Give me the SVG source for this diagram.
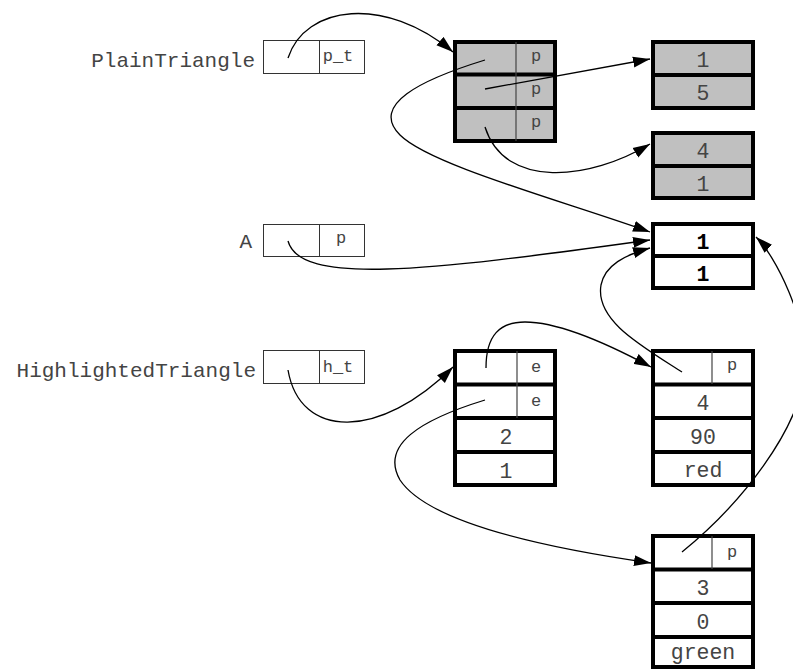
<svg xmlns="http://www.w3.org/2000/svg" width="793" height="670" viewBox="0 0 793 670">
<defs>
<style>
.bg{fill:#fff}
.var{fill:#fff;stroke:#333;stroke-width:1}
.thin{stroke:#333;stroke-width:1}
.gr{fill:#c0c0c0;stroke:#000;stroke-width:4}
.wh{fill:#fff;stroke:#000;stroke-width:4}
.sep{stroke:#000;stroke-width:4}
.col{stroke:#444;stroke-width:1.2}
text{font-family:"Liberation Mono","DejaVu Sans Mono",monospace;fill:#444}
.lbl{font-size:21px;text-anchor:end}
.sm{font-size:17px;text-anchor:middle}
.val{font-size:21.5px;text-anchor:middle}
.b{font-weight:bold;fill:#000}
.e{fill:none;stroke:#000;stroke-width:1.3}
</style>
<marker id="ah" markerUnits="userSpaceOnUse" markerWidth="18" markerHeight="12" viewBox="0 0 18 12" refX="17" refY="6" orient="auto">
<path d="M0,0.5 L17,6 L0,11.5 z" fill="#000"/>
</marker>
</defs>
<rect class="bg" x="0" y="0" width="793" height="670"/>

<g id="PlainTriangle">
<text class="lbl" x="255" y="67">PlainTriangle</text>
<rect class="var" x="263.5" y="40.5" width="101" height="33"/>
<line class="thin" x1="319.5" y1="40.5" x2="319.5" y2="73.5"/>
<text class="sm" x="338" y="61">p_t</text>
</g>

<g id="A">
<text class="lbl" x="252" y="248">A</text>
<rect class="var" x="263.5" y="224.5" width="101" height="32"/>
<line class="thin" x1="319.5" y1="224.5" x2="319.5" y2="256.5"/>
<text class="sm" x="341" y="243">p</text>
</g>

<g id="HighlightedTriangle">
<text class="lbl" x="256" y="377">HighlightedTriangle</text>
<rect class="var" x="263.5" y="350.5" width="101" height="33"/>
<line class="thin" x1="319.5" y1="350.5" x2="319.5" y2="383.5"/>
<text class="sm" x="338" y="372">h_t</text>
</g>

<g id="plain_array">
<rect class="gr" x="455" y="42" width="100" height="99"/>
<line class="sep" x1="455" y1="74.5" x2="555" y2="74.5"/>
<line class="sep" x1="455" y1="108" x2="555" y2="108"/>
<line class="col" x1="516" y1="42" x2="516" y2="141"/>
<text class="sm" x="536" y="61">p</text>
<text class="sm" x="536" y="94">p</text>
<text class="sm" x="536" y="127">p</text>
</g>

<g id="point_1_5">
<rect class="gr" x="653" y="42" width="100" height="66"/>
<line class="sep" x1="653" y1="75" x2="753" y2="75"/>
<text class="val" x="703" y="67">1</text>
<text class="val" x="703" y="100">5</text>
</g>

<g id="point_4_1">
<rect class="gr" x="653" y="133" width="100" height="65"/>
<line class="sep" x1="653" y1="166" x2="753" y2="166"/>
<text class="val" x="703" y="158">4</text>
<text class="val" x="703" y="191">1</text>
</g>

<g id="point_1_1">
<rect class="wh" x="653" y="224" width="100" height="64"/>
<line class="sep" x1="653" y1="256" x2="753" y2="256"/>
<text class="val b" x="703" y="249">1</text>
<text class="val b" x="703" y="281">1</text>
</g>

<g id="highlighted_struct">
<rect class="wh" x="455" y="351" width="100" height="134"/>
<line class="sep" x1="455" y1="384.5" x2="555" y2="384.5"/>
<line class="sep" x1="455" y1="418" x2="555" y2="418"/>
<line class="sep" x1="455" y1="452" x2="555" y2="452"/>
<line class="col" x1="517" y1="351" x2="517" y2="418"/>
<text class="sm" x="536" y="372">e</text>
<text class="sm" x="536" y="406">e</text>
<text class="val" x="506" y="444">2</text>
<text class="val" x="506" y="478">1</text>
</g>

<g id="edge_red">
<rect class="wh" x="653" y="351" width="100" height="134"/>
<line class="sep" x1="653" y1="384.5" x2="753" y2="384.5"/>
<line class="sep" x1="653" y1="418" x2="753" y2="418"/>
<line class="sep" x1="653" y1="452" x2="753" y2="452"/>
<line class="col" x1="712" y1="351" x2="712" y2="384"/>
<text class="sm" x="732" y="370">p</text>
<text class="val" x="703" y="410">4</text>
<text class="val" x="703" y="444">90</text>
<text class="val" x="703" y="477">red</text>
</g>

<g id="edge_green">
<rect class="wh" x="653" y="536" width="100" height="131"/>
<line class="sep" x1="653" y1="569.5" x2="753" y2="569.5"/>
<line class="sep" x1="653" y1="603" x2="753" y2="603"/>
<line class="sep" x1="653" y1="637" x2="753" y2="637"/>
<line class="col" x1="712" y1="536" x2="712" y2="569"/>
<text class="sm" x="732" y="557">p</text>
<text class="val" x="703" y="595">3</text>
<text class="val" x="703" y="629">0</text>
<text class="val" x="703" y="659">green</text>
</g>

<g id="connectors">
<path class="e" marker-end="url(#ah)" d="M288,58 C305,5 385,-5 453,52"/>
<path class="e" marker-end="url(#ah)" d="M485,60 C420,80 370,105 400,135 C430,165 560,200 650,232"/>
<path class="e" marker-end="url(#ah)" d="M485,89 L650,59"/>
<path class="e" marker-end="url(#ah)" d="M485,127 C505,190 590,180 650,144"/>
<path class="e" marker-end="url(#ah)" d="M288,241 C300,285 420,272 650,240"/>
<path class="e" marker-end="url(#ah)" d="M682,372 C640,345 595,320 601,285 C605,265 625,255 650,248"/>
<path class="e" marker-end="url(#ah)" d="M682,552 C740,505 800,430 805,370 C808,320 775,255 756,237"/>
<path class="e" marker-end="url(#ah)" d="M288,370 C300,440 380,440 453,367"/>
<path class="e" marker-end="url(#ah)" d="M486,368 C486,335 500,322 525,322 C560,322 610,345 651,367"/>
<path class="e" marker-end="url(#ah)" d="M485,400 C420,420 380,445 400,480 C430,525 560,550 651,563"/>
</g>
</svg>
